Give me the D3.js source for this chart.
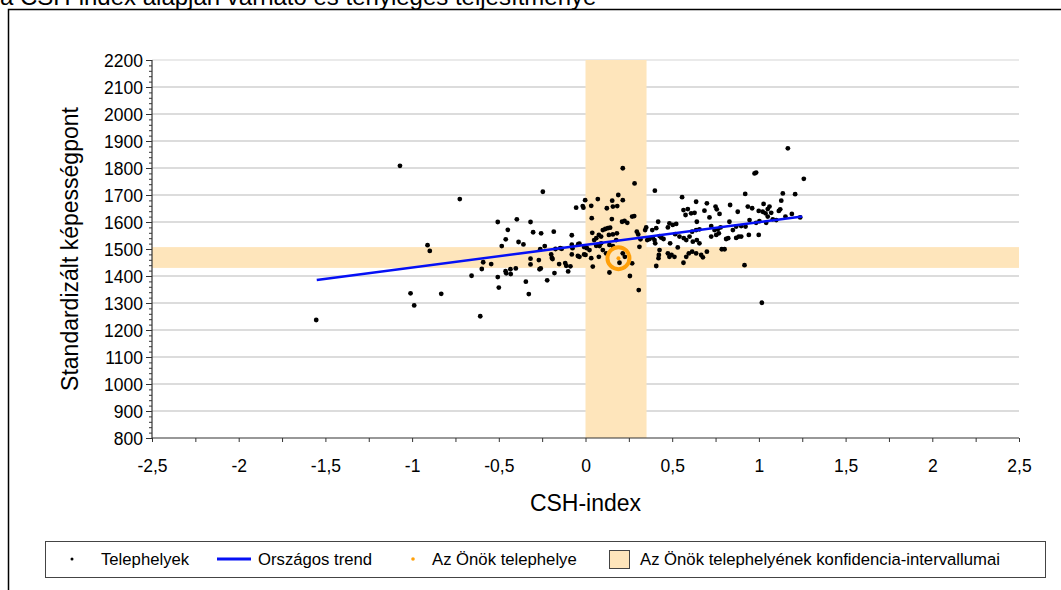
<!DOCTYPE html>
<html>
<head>
<meta charset="utf-8">
<script src="https://cdn.jsdelivr.net/npm/d3@7"></script>
<style>
  body { margin: 0; background: #fff; }
  text { font-family: "Liberation Sans", Arial, sans-serif; }
</style>
</head>
<body>
<script>
var w = 1061;
var h = 590;

// plot area
var pLeft = 152, pRight = 1019, pTop = 60, pBottom = 438;

var xTicks = [-2.5, -2, -1.5, -1, -0.5, 0, 0.5, 1, 1.5, 2, 2.5];
var yTicks = [800, 900, 1000, 1100, 1200, 1300, 1400, 1500, 1600, 1700, 1800, 1900, 2000, 2100, 2200];

// telephelyek: [CSH-index, standardizált képességpont]
var telephelyek = [
  [-1.07,1808],[-0.725,1685],[-1.553,1237],[-0.911,1514],[-0.898,1493],[-1.009,1336],[-0.988,1291],[-0.832,1334],
  [-0.607,1251],[-0.657,1401],[-0.598,1426],[-0.59,1451],[-0.544,1444],[-0.506,1600],[-0.483,1511],[-0.46,1536],
  [-0.448,1571],[-0.506,1396],[-0.5,1357],[-0.461,1418],[-0.457,1410],[-0.433,1425],[-0.431,1407],[-0.402,1428],
  [-0.396,1610],[-0.386,1526],[-0.358,1517],[-0.344,1379],[-0.327,1333],[-0.317,1600],[-0.302,1562],[-0.317,1464],
  [-0.317,1443],[-0.269,1459],[-0.261,1499],[-0.265,1425],[-0.258,1428],[-0.256,1558],[-0.246,1712],[-0.235,1511],
  [-0.221,1384],[-0.198,1480],[-0.194,1467],[-0.19,1463],[-0.183,1564],[-0.179,1411],[-0.173,1500],[-0.152,1444],
  [-0.137,1501],[-0.146,1503],[-0.117,1448],[-0.111,1438],[-0.1,1417],[-0.087,1436],[-0.079,1551],[-0.079,1516],
  [-0.075,1503],[-0.079,1480],[-0.054,1653],[-0.042,1518],[-0.035,1520],[-0.044,1474],[-0.035,1471],[-0.016,1659],
  [-0.012,1653],[-0.002,1681],[-0.008,1507],[-0.008,1480],
  [0.215,1799],[0.283,1743],[0.033,1660],[0.071,1685],[0.036,1614],[0.123,1651],[0.154,1679],[0.158,1657],
  [0.183,1659],[0.189,1700],[0.215,1681],[0.152,1611],[0.211,1601],[0.225,1604],[0.241,1597],[0.269,1620],
  [0.281,1622],[0.039,1560],[0.062,1540],[0.05,1533],[0.077,1552],[0.09,1546],[0.1,1570],[0.114,1574],
  [0.129,1577],[0.142,1579],[0.135,1552],[0.158,1554],[0.181,1558],[0.177,1533],[0.062,1512],[0.09,1521],
  [0.008,1503],[0.023,1496],[0.0,1478],[0.033,1466],[0.042,1435],[0.077,1471],[0.1,1496],[0.119,1484],
  [0.081,1511],[0.138,1515],[0.158,1511],[0.138,1413],[0.196,1449],[0.215,1484],[0.227,1471],[0.256,1400],
  [0.307,1348],[0.296,1564],[0.304,1554],[0.311,1508],[0.317,1536],[0.344,1570],[0.35,1580],[0.269,1447],
  [0.4,1716],[0.356,1533],[0.369,1537],[0.388,1542],[0.398,1533],[0.427,1548],[0.437,1542],[0.45,1537],
  [0.385,1570],[0.408,1577],[0.419,1601],[0.402,1521],[0.427,1496],[0.423,1478],[0.421,1466],[0.408,1437],
  [0.475,1580],[0.484,1595],[0.503,1589],[0.475,1484],[0.484,1471],[0.496,1478],[0.513,1471],[0.488,1521],
  [0.517,1555],[0.542,1546],[0.523,1593],[0.557,1692],[0.565,1644],[0.59,1648],[0.577,1626],[0.532,1506],
  [0.567,1540],[0.581,1533],[0.6,1546],[0.565,1449],[0.581,1471],[0.596,1484],[0.609,1632],[0.629,1634],
  [0.638,1675],[0.642,1601],[0.615,1564],[0.638,1570],[0.657,1573],[0.619,1527],[0.642,1533],[0.657,1521],
  [0.615,1490],[0.638,1484],[0.667,1478],[0.677,1469],[0.7,1490],[0.686,1642],[0.7,1669],[0.715,1617],
  [0.75,1657],[0.757,1647],[0.773,1630],[0.725,1585],[0.744,1570],[0.763,1573],[0.779,1580],[0.725,1546],
  [0.754,1552],[0.769,1558],[0.786,1499],[0.802,1499],[0.811,1537],[0.823,1540],[0.834,1663],[0.83,1601],
  [0.85,1570],[0.869,1583],[0.884,1546],[0.898,1546],[0.878,1638],[0.898,1585],[0.921,1704],[0.917,1440],
  [0.936,1657],[0.961,1651],[0.942,1552],[0.999,1552],[0.975,1780],[0.984,1783],[0.984,1597],[1.003,1603],
  [1.017,1301],[0.999,1641],[1.027,1667],[1.022,1638],[1.038,1632],[1.051,1648],[1.061,1657],[1.071,1634],
  [1.051,1620],[1.08,1610],[1.115,1641],[1.123,1647],[1.138,1706],[1.129,1679],[1.153,1620],[1.167,1873],
  [1.19,1630],[1.209,1703],[1.238,1617],[1.259,1760],[0.869,1541],[0.923,1583],[0.946,1607],[1.042,1597],
  [1.1,1607]
];

// országos trend end points
var trend = [[-1.55, 1385], [1.25, 1620]];

// az Önök telephelye and its confidence intervals
var sajat = [0.19, 1466];
var konfX = [0, 0.352];
var konfY = [1430, 1507];

var legendLabels = ["Telephelyek", "Országos trend", "Az Önök telephelye", "Az Önök telephelyének konfidencia-intervallumai"];

var huFmt = d3.formatLocale({decimal: ",", thousands: "", grouping: [3], currency: ["", ""], minus: "-"});

var x = d3.scaleLinear().domain([-2.5, 2.5]).range([pLeft, pRight]);
var y = d3.scaleLinear().domain([800, 2200]).range([pBottom, pTop]);

var svg = d3.select("body")
            .append("svg")
                .attr("width", w)
                .attr("height", h);

svg.append("rect").attr("width", w).attr("height", h).attr("fill", "#fff");

// title, clipped at the top edge
svg.append("text")
    .attr("x", 0)
    .attr("y", 5)
    .attr("font-size", 24)
    .attr("fill", "#000")
    .text("a CSH-index alapján várható és tényleges teljesítménye");

// outer frame
svg.append("path")
    .attr("d", "M8.5," + h + "V9.5H" + w)
    .attr("fill", "none")
    .attr("stroke", "#000")
    .attr("stroke-width", 1.5);

// grid
svg.append("g")
    .selectAll("line")
    .data(yTicks.slice(1))
    .enter()
    .append("line")
        .attr("x1", pLeft)
        .attr("x2", pRight)
        .attr("y1", function(d) {return y(d);})
        .attr("y2", function(d) {return y(d);})
        .attr("stroke", function(d) {return d == 2200 ? "#e3e3e3" : "#d0d0d0";})
        .attr("stroke-width", 1.5);

// confidence bands
var bandColor = "#fee5bb";
svg.append("rect")
    .attr("x", x(-2.5))
    .attr("width", x(2.5) - x(-2.5))
    .attr("y", y(konfY[1]))
    .attr("height", y(konfY[0]) - y(konfY[1]))
    .attr("fill", bandColor);
svg.append("rect")
    .attr("x", x(konfX[0]))
    .attr("width", x(konfX[1]) - x(konfX[0]))
    .attr("y", y(2200))
    .attr("height", y(800) - y(2200))
    .attr("fill", bandColor);

// axes
var yAxis = d3.axisLeft(y)
    .tickValues(d3.range(800, 2201, 20))
    .tickSize(0)
    .tickFormat("");
var gy = svg.append("g").attr("transform", "translate(" + pLeft + ",0)").call(yAxis);
gy.select(".domain").remove();
gy.selectAll(".tick line")
    .attr("x2", function(d) {return d % 100 == 0 ? -6 : -3;})
    .attr("stroke", "#333");
gy.selectAll(".tick")
    .filter(function(d) {return d % 100 == 0;})
    .append("text")
        .attr("x", -9)
        .attr("dy", "0.36em")
        .attr("text-anchor", "end")
        .attr("fill", "#000")
        .attr("font-size", 17.5)
        .text(function(d) {return huFmt.format("d")(d);});

var xAxis = d3.axisBottom(x)
    .tickValues(d3.range(-2.5, 2.51, 0.25))
    .tickSize(4)
    .tickFormat("");
var gx = svg.append("g").attr("transform", "translate(0," + pBottom + ")").call(xAxis);
gx.select(".domain").remove();
gx.selectAll(".tick line").attr("stroke", "#333");
gx.selectAll(".tick")
    .filter(function(d) {return xTicks.some(function(t) {return Math.abs(t - d) < 1e-9;});})
    .append("text")
        .attr("y", 34)
        .attr("text-anchor", "middle")
        .attr("fill", "#000")
        .attr("font-size", 17.5)
        .text(function(d) {return huFmt.format("")(Math.round(d * 10) / 10);});

svg.append("line")
    .attr("x1", pLeft).attr("x2", pLeft)
    .attr("y1", pTop).attr("y2", pBottom)
    .attr("stroke", "#333").attr("stroke-width", 1.2);
svg.append("line")
    .attr("x1", pLeft).attr("x2", pRight)
    .attr("y1", pBottom).attr("y2", pBottom)
    .attr("stroke", "#333").attr("stroke-width", 1.2);

// axis titles
svg.append("text")
    .attr("transform", "translate(78," + ((pTop + pBottom) / 2) + ") rotate(-90)")
    .attr("text-anchor", "middle")
    .attr("font-size", 23)
    .text("Standardizált képességpont");
svg.append("text")
    .attr("x", (pLeft + pRight) / 2)
    .attr("y", 511)
    .attr("text-anchor", "middle")
    .attr("font-size", 23)
    .text("CSH-index");

// points
svg.append("g")
    .selectAll("circle")
    .data(telephelyek)
    .enter()
    .append("circle")
        .attr("cx", function(d) {return x(d[0]);})
        .attr("cy", function(d) {return y(d[1]);})
        .attr("r", 2.4)
        .attr("fill", "#000");

// trend
svg.append("line")
    .attr("x1", x(trend[0][0])).attr("y1", y(trend[0][1]))
    .attr("x2", x(trend[1][0])).attr("y2", y(trend[1][1]))
    .attr("stroke", "#0510f5")
    .attr("stroke-width", 2.5);

// own site
svg.append("circle")
    .attr("cx", x(sajat[0])).attr("cy", y(sajat[1]))
    .attr("r", 11)
    .attr("fill", "none")
    .attr("stroke", "#ffa00a")
    .attr("stroke-width", 4);
svg.append("circle")
    .attr("cx", x(sajat[0])).attr("cy", y(sajat[1]))
    .attr("r", 2)
    .attr("fill", "#ffa00a");

// legend
var lg = svg.append("g");
lg.append("rect")
    .attr("x", 45.5).attr("y", 541.5)
    .attr("width", 1000).attr("height", 36)
    .attr("fill", "#fff")
    .attr("stroke", "#444");
lg.append("circle").attr("cx", 72).attr("cy", 559).attr("r", 1.5).attr("fill", "#000");
lg.append("line").attr("x1", 217).attr("x2", 251).attr("y1", 559).attr("y2", 559)
    .attr("stroke", "#0510f5").attr("stroke-width", 3);
lg.append("circle").attr("cx", 413).attr("cy", 559).attr("r", 1.8).attr("fill", "#ffa00a");
lg.append("rect").attr("x", 609.5).attr("y", 550.5).attr("width", 20).attr("height", 18)
    .attr("fill", bandColor).attr("stroke", "#444");
var legendX = [101, 258, 432, 640];
lg.selectAll("text.leg")
    .data(legendLabels)
    .enter()
    .append("text")
        .attr("class", "leg")
        .attr("x", function(d, i) {return legendX[i];})
        .attr("y", 565)
        .attr("font-size", 16.7)
        .attr("fill", "#000")
        .text(function(d) {return d;});
</script>
</body>
</html>
